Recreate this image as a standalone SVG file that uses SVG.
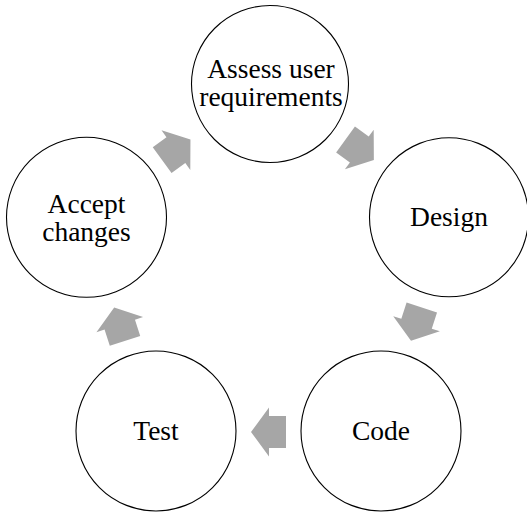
<svg xmlns="http://www.w3.org/2000/svg" width="527" height="514" viewBox="0 0 527 514">
  <defs>
    <style>
      .node circle { fill: #ffffff; stroke: #000000; stroke-width: 1.1; }
      .node text { font-family: "Liberation Serif", "Times New Roman", serif; font-size: 27.5px; fill: #000000; text-anchor: middle; }
      .arrow { fill: #a6a6a6; stroke: none; }
    </style>
    <!-- block arrow pointing along +x, centred on the origin -->
    <polygon id="blockArrow" points="17.5,0 -0.5,-24.5 -0.5,-16 -17.5,-16 -17.5,16 -0.5,16 -0.5,24.5"/>
  </defs>

  <rect x="0" y="0" width="527" height="514" fill="#ffffff"/>

  <!-- connectors -->
  <g id="connectors">
    <use href="#blockArrow" class="arrow" transform="translate(359.7,149.8) rotate(36)"/>
    <use href="#blockArrow" class="arrow" transform="translate(416.4,324.2) rotate(108)"/>
    <use href="#blockArrow" class="arrow" transform="translate(268.5,432) rotate(180)"/>
    <use href="#blockArrow" class="arrow" transform="translate(119.6,324.2) rotate(252)"/>
    <use href="#blockArrow" class="arrow" transform="translate(176.3,149.8) rotate(324)"/>
  </g>

  <!-- nodes -->
  <g id="node-assess" class="node">
    <circle cx="270" cy="84" r="78.5"/>
    <text x="271" y="77.5">Assess user</text>
    <text x="271" y="106">requirements</text>
  </g>
  <g id="node-design" class="node">
    <circle cx="449" cy="217.3" r="79.5"/>
    <text x="449" y="226">Design</text>
  </g>
  <g id="node-code" class="node">
    <circle cx="381" cy="431" r="80"/>
    <text x="381" y="440">Code</text>
  </g>
  <g id="node-test" class="node">
    <circle cx="156" cy="431" r="80"/>
    <text x="156" y="440">Test</text>
  </g>
  <g id="node-accept" class="node">
    <circle cx="86.5" cy="217.3" r="80"/>
    <text x="86.5" y="213">Accept</text>
    <text x="86.5" y="241">changes</text>
  </g>
</svg>
